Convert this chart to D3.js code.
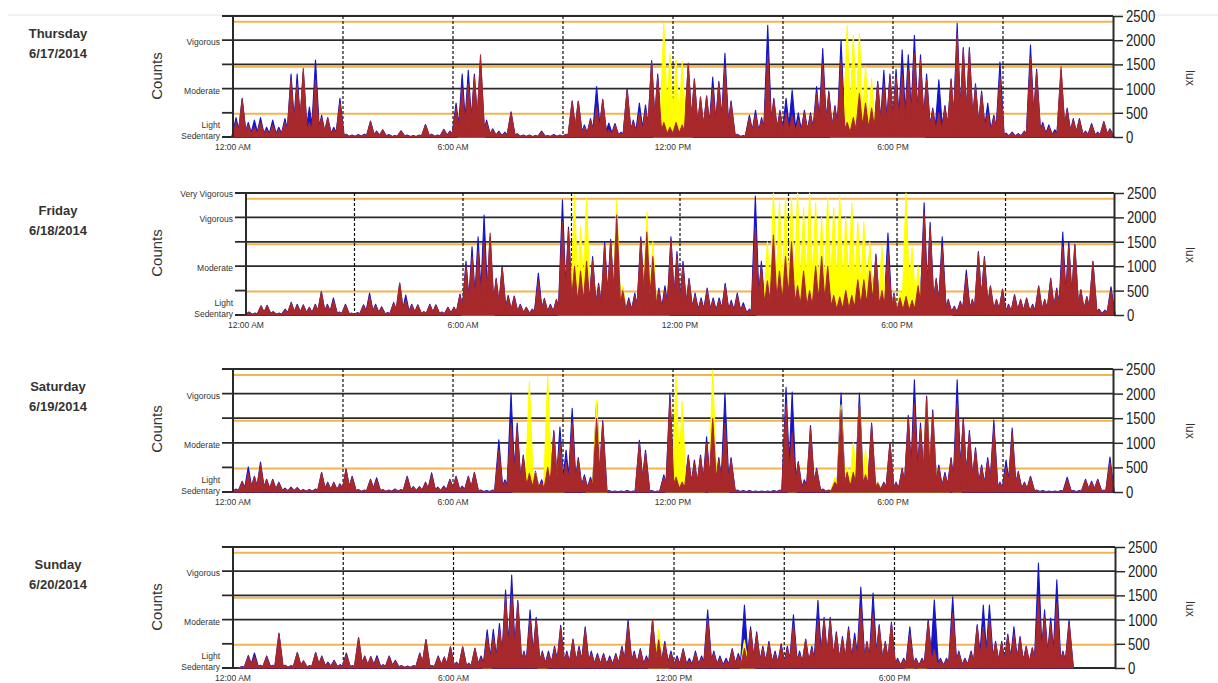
<!DOCTYPE html>
<html>
<head>
<meta charset="utf-8">
<script src="https://cdn.jsdelivr.net/npm/d3@7"></script>
<style>
  body { margin: 0; background: #fff; }
  svg text { font-family: "Liberation Sans", Arial, sans-serif; }
</style>
</head>
<body>
<script>
// activity counts / lux, 10 minute bins (6 per hour)
const days = ["Thursday", "Friday", "Saturday", "Sunday"];
const dates = ["6/17/2014", "6/18/2014", "6/19/2014", "6/20/2014"];
const timeLabels = ["12:00 AM", "6:00 AM", "12:00 PM", "6:00 PM"];
const timeTicks = [0, 360, 720, 1080];
const luxTicks = [0, 500, 1000, 1500, 2000, 2500];

const thuBlue = [
  400, 800, 300, 350, 400, 200,  350, 200, 380, 1300, 1300, 1350,
  620, 1590, 450, 400, 200, 800,  60, 40, 50, 60, 330, 120,
  150, 50, 30, 130, 40, 30,  40, 260, 60, 40, 160, 120,
  700, 1300, 1380, 1300, 1600, 350,  170, 120, 100, 520, 70, 40,
  40, 30, 120, 30, 50, 40,  60, 750, 740, 250, 380, 1040,
  780, 290, 280, 100, 1000, 350,  700, 660, 1580, 1300, 400, 300,
  400, 300, 1500, 1200, 800, 850,  1240, 1150, 1730, 750, 60, 30,
  450, 550, 400, 2310, 800, 550,  800, 970, 500, 550, 500, 1040,
  1830, 950, 650, 2000, 400, 350,  950, 750, 700, 1150, 1380, 1300,
  1400, 1800, 1700, 2100, 1700, 1300,  600, 1180, 650, 1200, 2350, 1850,
  1850, 1100, 950, 700, 450, 1550,  80, 100, 70, 120, 1900, 1400,
  300, 250, 150, 1380, 600, 380,  380, 120, 280, 100, 320, 170
];
const thuRed = [
  300, 780, 250, 200, 300, 150,  250, 150, 300, 1200, 1100, 1420,
  300, 1180, 400, 390, 150, 700,  50, 30, 40, 40, 310, 100,
  140, 40, 20, 120, 30, 20,  30, 250, 50, 30, 150, 100,
  600, 1000, 1100, 1250, 1700, 300,  150, 100, 80, 500, 60, 30,
  30, 20, 100, 20, 40, 30,  50, 730, 730, 200, 350, 620,
  760, 150, 250, 80, 970, 300,  500, 550, 1550, 1240, 300, 200,
  300, 250, 1530, 1180, 830, 830,  1000, 1110, 1450, 700, 50, 20,
  400, 450, 340, 1700, 760, 500,  500, 450, 350, 500, 450, 900,
  1530, 900, 600, 1590, 300, 400,  900, 700, 600, 1110, 1100, 1240,
  1240, 1300, 1400, 1730, 1590, 1180,  560, 500, 600, 1180, 2140, 1800,
  1800, 1040, 900, 500, 400, 1240,  60, 80, 50, 100, 1630, 1350,
  250, 200, 100, 1450, 560, 350,  350, 100, 250, 80, 300, 150
];
const thuLux = [
  0, 0, 0, 0, 0, 0,  0, 0, 0, 0, 0, 0,
  0, 0, 0, 0, 0, 0,  0, 0, 0, 0, 0, 0,
  0, 0, 0, 0, 0, 0,  0, 0, 0, 0, 0, 0,
  0, 50, 350, 300, 50, 0,  0, 0, 0, 0, 0, 0,
  0, 0, 0, 0, 0, 0,  0, 0, 0, 0, 0, 0,
  0, 0, 0, 0, 0, 0,  0, 0, 0, 900, 2350, 1730,
  1590, 1550, 400, 0, 0, 0,  0, 0, 0, 0, 0, 0,
  0, 0, 0, 0, 0, 0,  0, 0, 0, 0, 0, 0,
  0, 0, 300, 800, 2310, 2100,  2140, 1450, 1200, 800, 400, 100,
  100, 150, 50, 150, 100, 0,  0, 0, 0, 0, 0, 0,
  0, 0, 0, 0, 0, 0,  0, 0, 0, 0, 0, 0,
  0, 0, 0, 0, 0, 0,  0, 0, 0, 0, 0, 0
];

const friBlue = [
  60, 40, 190, 200, 70, 40,  120, 260, 220, 210, 160, 220,
  480, 220, 350, 60, 220, 40,  50, 210, 450, 220, 170, 50,
  260, 640, 410, 220, 210, 70,  220, 210, 60, 160, 160, 430,
  1100, 1400, 1600, 2050, 1600, 750,  1000, 400, 390, 220, 160, 120,
  860, 340, 220, 320, 2360, 1800,  1050, 950, 1150, 1200, 650, 1500,
  1550, 2100, 550, 350, 450, 1600,  1750, 1250, 550, 600, 1600, 1300,
  1100, 750, 450, 350, 550, 350,  350, 650, 300, 450, 250, 120,
  2440, 1100, 800, 1700, 1000, 1300,  1600, 700, 1000, 600, 1100, 1300,
  1100, 450, 400, 550, 450, 750,  750, 1330, 1250, 600, 1680, 450,
  380, 400, 350, 700, 2300, 1900,  750, 1600, 320, 180, 280, 920,
  320, 1300, 1200, 600, 320, 530,  220, 420, 320, 350, 220, 600,
  320, 750, 550, 1700, 1500, 1450,  520, 380, 1100, 120, 100, 580
];
const friRed = [
  50, 30, 180, 185, 60, 30,  100, 245, 200, 200, 150, 200,
  470, 200, 300, 50, 200, 30,  40, 195, 380, 200, 150, 40,
  240, 660, 300, 200, 200, 60,  200, 200, 50, 150, 150, 410,
  1000, 1190, 1300, 1500, 1680, 720,  980, 370, 370, 200, 150, 100,
  700, 320, 200, 300, 1900, 1740,  1000, 900, 1100, 1130, 600, 1430,
  1500, 2050, 500, 300, 400, 1540,  1700, 1200, 500, 500, 1540, 1200,
  1000, 720, 400, 300, 500, 300,  300, 600, 250, 400, 200, 100,
  1800, 1000, 700, 1640, 900, 1200,  1500, 600, 900, 500, 1000, 1200,
  1000, 400, 370, 500, 400, 720,  720, 900, 1200, 500, 1300, 400,
  350, 380, 300, 600, 2090, 1800,  720, 1400, 300, 160, 250, 800,
  300, 1270, 1150, 580, 300, 510,  200, 400, 300, 330, 200, 580,
  300, 720, 500, 1400, 1400, 1430,  500, 360, 1090, 100, 80, 500
];
const friLux = [
  0, 0, 0, 0, 0, 0,  0, 0, 0, 0, 0, 0,
  0, 0, 0, 0, 0, 0,  0, 0, 0, 0, 0, 0,
  0, 0, 0, 0, 0, 0,  0, 0, 0, 0, 0, 0,
  200, 370, 300, 720, 200, 0,  0, 0, 0, 0, 0, 0,
  0, 0, 0, 0, 300, 800,  2460, 1800, 2400, 800, 200, 300,
  1200, 2360, 600, 200, 100, 900,  2100, 1500, 300, 100, 0, 0,
  0, 0, 0, 0, 0, 0,  0, 0, 0, 0, 0, 0,
  0, 300, 1500, 2500, 2300, 2400,  2400, 2500, 2200, 2500, 2300, 2000,
  2400, 2200, 2450, 2000, 2300, 1900,  1900, 1500, 1070, 1400, 500, 400,
  500, 2500, 1400, 1000, 720, 600,  300, 200, 100, 0, 0, 0,
  0, 0, 0, 0, 0, 0,  0, 0, 0, 0, 0, 0,
  0, 0, 0, 0, 0, 0,  0, 0, 0, 0, 0, 0
];

const satBlue = [
  60, 220, 510, 320, 610, 260,  260, 200, 80, 100, 90, 50,
  50, 60, 400, 200, 200, 170,  470, 320, 50, 40, 260, 290,
  50, 40, 60, 50, 320, 110,  110, 200, 390, 100, 120, 260,
  320, 120, 320, 400, 40, 30,  40, 1060, 250, 2010, 1400, 750,
  400, 420, 250, 1120, 1250, 1320,  850, 1700, 700, 350, 300, 1830,
  1450, 30, 20, 20, 30, 20,  1050, 850, 30, 20, 350, 2010,
  350, 300, 750, 650, 750, 1120,  1700, 700, 2010, 700, 40, 30,
  30, 20, 20, 20, 30, 40,  2130, 2030, 620, 250, 1350, 480,
  60, 40, 250, 2010, 450, 500,  2010, 400, 1400, 200, 200, 1000,
  200, 480, 1560, 2280, 1400, 1950,  1670, 550, 400, 700, 2280, 1500,
  1250, 900, 550, 700, 1460, 200,  650, 1300, 420, 200, 320, 40,
  30, 20, 20, 30, 300, 30,  30, 260, 220, 260, 40, 710
];
const satRed = [
  50, 200, 390, 300, 550, 240,  240, 180, 60, 80, 80, 40,
  40, 50, 390, 180, 180, 150,  450, 300, 40, 30, 240, 240,
  40, 30, 50, 40, 300, 100,  100, 180, 350, 80, 100, 240,
  300, 100, 300, 390, 30, 20,  30, 850, 200, 1400, 1300, 710,
  380, 390, 200, 500, 1200, 1000,  600, 1400, 650, 300, 250, 1500,
  1400, 20, 10, 10, 20, 10,  1000, 800, 20, 10, 300, 1900,
  300, 200, 710, 600, 710, 1000,  1500, 650, 1400, 650, 30, 20,
  20, 10, 10, 10, 20, 30,  1800, 1200, 590, 200, 1300, 450,
  50, 30, 200, 1670, 400, 400,  1800, 350, 1360, 180, 180, 1000,
  180, 450, 1500, 1800, 1300, 1910,  1600, 500, 350, 650, 1800, 1460,
  1200, 850, 500, 650, 1300, 180,  500, 1200, 390, 180, 300, 30,
  20, 10, 10, 20, 250, 20,  20, 240, 200, 240, 30, 600
];
const satLux = [
  0, 0, 0, 0, 0, 0,  0, 0, 0, 0, 0, 0,
  0, 0, 0, 0, 0, 0,  0, 0, 0, 0, 0, 0,
  0, 0, 0, 0, 0, 0,  0, 0, 0, 0, 0, 0,
  0, 0, 0, 0, 0, 0,  0, 0, 0, 0, 200, 300,
  2240, 400, 100, 2340, 1060, 900,  0, 0, 0, 0, 200, 1870,
  600, 0, 0, 0, 0, 0,  0, 0, 0, 0, 0, 300,
  2340, 1830, 200, 100, 100, 0,  2480, 200, 100, 0, 0, 0,
  0, 0, 0, 0, 0, 0,  0, 50, 0, 0, 0, 0,
  0, 0, 300, 1770, 510, 1000,  1740, 850, 600, 200, 100, 100,
  100, 100, 150, 200, 600, 1870,  1500, 300, 100, 0, 100, 0,
  0, 0, 0, 0, 0, 0,  0, 0, 0, 0, 0, 0,
  0, 0, 0, 0, 0, 0,  0, 0, 0, 0, 0, 0
];

const sunBlue = [
  0, 30, 260, 310, 60, 250,  60, 720, 60, 50, 320, 150,
  50, 320, 250, 120, 160, 70,  310, 50, 630, 250, 240, 255,
  70, 250, 160, 50, 40, 50,  310, 590, 50, 250, 230, 440,
  120, 440, 100, 410, 250, 790,  800, 920, 1610, 1920, 1400, 350,
  1200, 1050, 350, 350, 450, 880,  350, 600, 450, 850, 350, 300,
  300, 250, 300, 450, 990, 350,  400, 250, 1000, 600, 550, 350,
  250, 400, 200, 350, 250, 1200,  350, 250, 200, 400, 300, 1300,
  850, 750, 450, 550, 350, 500,  450, 1100, 350, 600, 450, 1400,
  1050, 1050, 750, 650, 850, 720,  1670, 550, 1550, 900, 550, 950,
  200, 200, 850, 200, 200, 1000,  1410, 200, 200, 1470, 350, 200,
  350, 900, 1300, 1300, 550, 550,  700, 850, 650, 450, 420, 2170,
  1200, 1030, 1820, 350, 990, 0,  0, 0, 0, 0, 0, 0
];
const sunRed = [
  0, 20, 230, 230, 50, 230,  50, 700, 50, 40, 310, 140,
  40, 310, 230, 100, 140, 60,  280, 40, 620, 230, 230, 200,
  60, 230, 140, 40, 30, 40,  300, 580, 40, 230, 220, 430,
  100, 430, 80, 400, 200, 650,  650, 800, 1470, 1500, 1340, 310,
  990, 990, 310, 300, 400, 830,  300, 580, 400, 790, 300, 270,
  270, 200, 270, 400, 900, 300,  370, 200, 990, 580, 500, 300,
  200, 370, 150, 300, 200, 1000,  300, 200, 150, 370, 250, 400,
  790, 700, 400, 500, 300, 450,  400, 900, 300, 580, 400, 1000,
  1000, 990, 700, 600, 800, 580,  1260, 520, 1130, 850, 520, 920,
  170, 170, 700, 170, 170, 950,  380, 170, 170, 1130, 310, 170,
  300, 850, 850, 1000, 520, 520,  650, 700, 600, 430, 400, 1470,
  1050, 900, 1340, 310, 920, 0,  0, 0, 0, 0, 0, 0
];
const sunLux = [
  0, 0, 0, 0, 0, 0,  0, 0, 0, 0, 0, 0,
  0, 0, 0, 0, 0, 0,  0, 0, 0, 0, 0, 0,
  0, 0, 0, 0, 0, 0,  0, 0, 0, 0, 0, 0,
  0, 0, 0, 0, 0, 100,  0, 0, 0, 0, 0, 0,
  0, 0, 100, 0, 0, 0,  0, 0, 0, 0, 0, 0,
  0, 0, 0, 0, 0, 0,  0, 0, 200, 800, 100, 0,
  0, 0, 0, 0, 0, 0,  0, 0, 0, 0, 0, 580,
  300, 0, 0, 0, 0, 0,  0, 0, 0, 0, 0, 0,
  0, 0, 0, 0, 0, 0,  0, 0, 0, 0, 0, 0,
  0, 0, 150, 0, 100, 0,  0, 0, 0, 0, 0, 0,
  0, 0, 0, 0, 0, 0,  0, 0, 0, 0, 0, 0,
  0, 0, 0, 0, 0, 0,  0, 0, 0, 0, 0, 0
];

const W = 1218, H = 683;
const svg = d3.select("body").append("svg").attr("width", W).attr("height", H);

svg.append("line")
  .attr("x1", 8).attr("x2", W).attr("y1", 15).attr("y2", 15)
  .attr("stroke", "#e4e4e4");

const panels = [
  { left: 233, right: 1113, top: 16, bottom: 137, blue: thuBlue, red: thuRed, lux: thuLux, top2500: "" },
  { left: 246, right: 1114, top: 193, bottom: 315, blue: friBlue, red: friRed, lux: friLux, top2500: "Very Vigorous" },
  { left: 233, right: 1113, top: 369, bottom: 492, blue: satBlue, red: satRed, lux: satLux, top2500: "" },
  { left: 233, right: 1115, top: 547, bottom: 668, blue: sunBlue, red: sunRed, lux: sunLux, top2500: "" }
];

const GRID = "#2a2a2a", ORANGE = "#f2b450";
const BLUE = "#1616c8", RED = "#a8292b", YELLOW = "#ffff00";

panels.forEach((p, k) => {
  const x = d3.scaleLinear().domain([0, 1440]).range([p.left, p.right]);
  const y = d3.scaleLinear().domain([0, 2500]).range([p.bottom, p.top]);
  const g = svg.append("g");

  // day label
  g.append("text").attr("x", 58).attr("y", p.top + 22)
    .attr("text-anchor", "middle").attr("font-family", "DejaVu Sans")
    .attr("font-weight", "bold").attr("font-size", 13).attr("fill", "#333")
    .text(days[k]);
  g.append("text").attr("x", 58).attr("y", p.top + 42)
    .attr("text-anchor", "middle").attr("font-family", "DejaVu Sans")
    .attr("font-weight", "bold").attr("font-size", 13).attr("fill", "#333")
    .text(dates[k]);

  // Counts
  g.append("text")
    .attr("transform", `translate(157,${p.top + 60}) rotate(-90)`)
    .attr("text-anchor", "middle").attr("dy", "0.35em")
    .attr("font-size", 15).attr("fill", "#333").text("Counts");

  // orange lux guides
  g.selectAll(".og").data([480, 1450, 2380]).enter().append("line")
    .attr("x1", p.left).attr("x2", p.right)
    .attr("y1", d => y(d)).attr("y2", d => y(d))
    .attr("stroke", ORANGE).attr("stroke-width", 2);

  // black count levels
  g.selectAll(".bg").data([0, 1000, 1500, 2000, 2500]).enter().append("line")
    .attr("x1", p.left - 11).attr("x2", p.right)
    .attr("y1", d => y(d)).attr("y2", d => y(d))
    .attr("stroke", GRID).attr("stroke-width", 1.8);
  g.append("line")
    .attr("x1", p.left - 11).attr("x2", p.left)
    .attr("y1", y(500)).attr("y2", y(500))
    .attr("stroke", GRID).attr("stroke-width", 1.8);

  // dashed verticals every 3 hours
  g.selectAll(".vd").data(d3.range(180, 1440, 180)).enter().append("line")
    .attr("x1", d => x(d)).attr("x2", d => x(d))
    .attr("y1", p.top).attr("y2", p.bottom)
    .attr("stroke", "#111").attr("stroke-width", 1.2)
    .attr("stroke-dasharray", "3,2");

  // series: one narrow spike per 10-minute bin
  const hw = (x(10) - x(0)) * 0.7;
  function spikes(vals) {
    let s = "";
    vals.forEach((v, i) => {
      if (v <= 0) return;
      const cx = x(i * 10 + 5);
      s += `M${cx - hw},${y(0)}L${cx},${y(v)}L${cx + hw},${y(0)}Z`;
    });
    return s;
  }
  [[p.blue, BLUE], [p.lux, YELLOW], [p.red, RED]].forEach(([vals, col]) => {
    g.append("path").attr("d", spikes(vals))
      .attr("fill", col).attr("stroke", col)
      .attr("stroke-width", 1.1).attr("stroke-linejoin", "round");
  });

  // left border
  g.append("line")
    .attr("x1", p.left).attr("x2", p.left)
    .attr("y1", p.top).attr("y2", p.bottom)
    .attr("stroke", GRID).attr("stroke-width", 2);

  // intensity labels
  const lab = [
    { t: p.top2500, y: y(2500) + 1 },
    { t: "Vigorous", y: y(2000) + 2 },
    { t: "Moderate", y: y(1000) + 2 },
    { t: "Light", y: y(0) - 12 },
    { t: "Sedentary", y: y(0) - 1 }
  ];
  g.selectAll(".lab").data(lab).enter().append("text")
    .attr("x", p.left - 13).attr("y", d => d.y)
    .attr("dy", "0.35em").attr("text-anchor", "end")
    .attr("font-size", 8.5).attr("fill", "#333")
    .text(d => d.t);

  // time labels
  g.selectAll(".tl").data(timeTicks).enter().append("text")
    .attr("x", d => x(d)).attr("y", p.bottom + 10)
    .attr("dy", "0.35em").attr("text-anchor", "middle")
    .attr("font-size", 8.5).attr("fill", "#333")
    .text((d, i) => timeLabels[i]);

  // right lux axis
  const ax = g.append("g")
    .attr("transform", `translate(${p.right},0)`)
    .call(d3.axisRight(y).tickValues(luxTicks).tickFormat(d3.format("d"))
      .tickSize(10).tickSizeOuter(0));
  ax.select(".domain").attr("stroke", GRID).attr("stroke-width", 2);
  ax.selectAll(".tick line").attr("stroke", GRID).attr("stroke-width", 1.5);
  ax.selectAll(".tick text")
    .attr("x", 13)
    .attr("font-size", 17).attr("fill", "#222")
    .attr("font-family", "Liberation Sans, Arial, sans-serif")
    .attr("textLength", d => String(d).length * 7.3)
    .attr("lengthAdjust", "spacingAndGlyphs");

  g.append("text")
    .attr("transform", `translate(1190,${p.top + 62}) rotate(90)`)
    .attr("text-anchor", "middle").attr("dy", "0.35em")
    .attr("font-size", 12).attr("fill", "#333").text("lux");
});
</script>
</body>
</html>
